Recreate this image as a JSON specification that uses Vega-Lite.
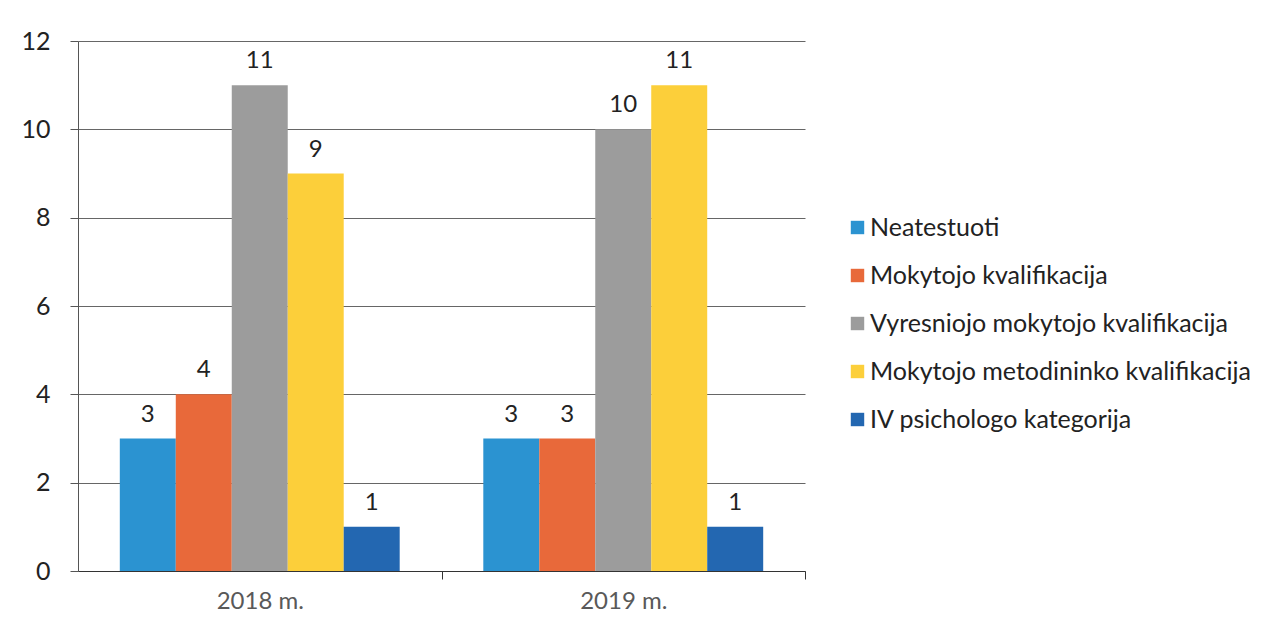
{
  "$schema": "https://vega.github.io/schema/vega-lite/v6.json",
  "autosize": "none",
  "width": 727,
  "height": 530,
  "padding": {"left": 78, "top": 41, "right": 462, "bottom": 57},
  "background": "white",
  "config": {
    "font": "Lato",
    "view": {"stroke": null}
  },
  "data": {
    "values": [
      {"year": "2018 m.", "category": "Neatestuoti", "value": 3},
      {"year": "2018 m.", "category": "Mokytojo kvalifikacija", "value": 4},
      {"year": "2018 m.", "category": "Vyresniojo mokytojo kvalifikacija", "value": 11},
      {"year": "2018 m.", "category": "Mokytojo metodininko kvalifikacija", "value": 9},
      {"year": "2018 m.", "category": "IV psichologo kategorija", "value": 1},
      {"year": "2019 m.", "category": "Neatestuoti", "value": 3},
      {"year": "2019 m.", "category": "Mokytojo kvalifikacija", "value": 3},
      {"year": "2019 m.", "category": "Vyresniojo mokytojo kvalifikacija", "value": 10},
      {"year": "2019 m.", "category": "Mokytojo metodininko kvalifikacija", "value": 11},
      {"year": "2019 m.", "category": "IV psichologo kategorija", "value": 1}
    ]
  },
  "encoding": {
    "x": {
      "field": "year",
      "type": "nominal",
      "scale": {"paddingInner": 0.23, "paddingOuter": 0.115},
      "axis": {
        "title": null,
        "labelAngle": 0,
        "labelFontSize": 24,
        "labelColor": "#595959",
        "labelPadding": 10,
        "tickOffset": 182,
        "labelOffset": -182,
        "tickSize": 8,
        "tickColor": "#333333",
        "domainColor": "#333333"
      }
    },
    "xOffset": {
      "field": "category",
      "type": "nominal",
      "sort": ["Neatestuoti", "Mokytojo kvalifikacija", "Vyresniojo mokytojo kvalifikacija", "Mokytojo metodininko kvalifikacija", "IV psichologo kategorija"],
      "scale": {"paddingInner": 0, "paddingOuter": 0}
    },
    "y": {
      "field": "value",
      "type": "quantitative",
      "scale": {"domain": [0, 12]},
      "axis": {
        "title": null,
        "values": [0, 2, 4, 6, 8, 10, 12],
        "labelFontSize": 25,
        "labelColor": "#222222",
        "labelPadding": 20,
        "tickSize": 8,
        "tickColor": "#555555",
        "domainColor": "#555555",
        "grid": true,
        "gridColor": "#666666",
        "gridWidth": 1
      }
    }
  },
  "layer": [
    {
      "mark": {"type": "bar"},
      "encoding": {
        "color": {
          "field": "category",
          "type": "nominal",
          "sort": ["Neatestuoti", "Mokytojo kvalifikacija", "Vyresniojo mokytojo kvalifikacija", "Mokytojo metodininko kvalifikacija", "IV psichologo kategorija"],
          "scale": {
            "domain": ["Neatestuoti", "Mokytojo kvalifikacija", "Vyresniojo mokytojo kvalifikacija", "Mokytojo metodininko kvalifikacija", "IV psichologo kategorija"],
            "range": ["#2b93d1", "#e8693a", "#9c9c9c", "#fccf3a", "#2367b1"]
          },
          "legend": {
            "title": null,
            "orient": "none",
            "legendX": 767,
            "legendY": 174,
            "symbolType": "square",
            "symbolSize": 180,
            "symbolStrokeWidth": 0,
            "labelFontSize": 25,
            "labelColor": "#222222",
            "labelLimit": 500,
            "labelOffset": 0,
            "rowPadding": 22
          }
        }
      }
    },
    {
      "mark": {"type": "text", "baseline": "alphabetic", "dy": -17, "fontSize": 24, "color": "#222222"},
      "encoding": {
        "text": {"field": "value", "type": "quantitative"}
      }
    }
  ]
}
